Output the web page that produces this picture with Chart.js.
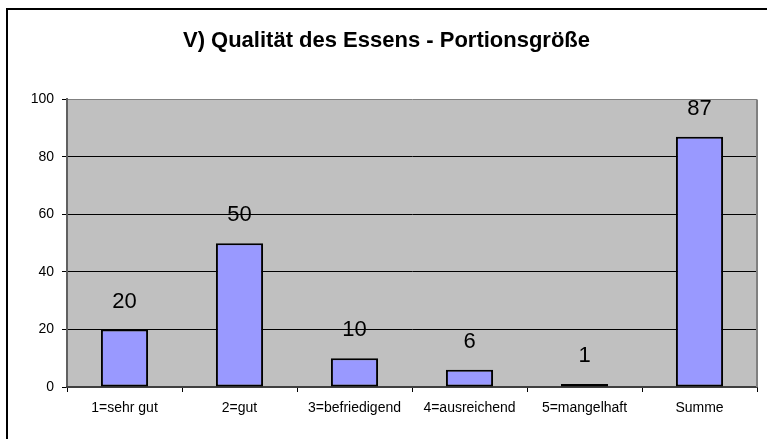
<!DOCTYPE html>
<html>
<head>
<meta charset="utf-8">
<script src="https://cdn.jsdelivr.net/npm/chart.js@4/dist/chart.umd.min.js"></script>
<style>
  html, body { margin: 0; padding: 0; background: #fff; }
  #wrap { position: relative; width: 767px; height: 439px; }
</style>
</head>
<body>
<div id="wrap"><canvas id="chart"></canvas></div>
<script>
const CATEGORIES = ['1=sehr gut', '2=gut', '3=befriedigend', '4=ausreichend', '5=mangelhaft', 'Summe'];
const VALUES = [20, 50, 10, 6, 1, 87];
const Y_TICKS = [0, 20, 40, 60, 80, 100];
const TITLE = 'V) Qualität des Essens - Portionsgröße';

// Gray plot background, right border of the plot and the outer frame lines.
const framePlugin = {
  id: 'frame',
  beforeDraw(chart) {
    const { ctx, chartArea: a } = chart;
    ctx.save();
    ctx.fillStyle = '#c0c0c0';
    ctx.fillRect(a.left, a.top, a.right - a.left, a.bottom - a.top);
    ctx.restore();
  },
  afterDraw(chart) {
    const { ctx, chartArea: a } = chart;
    ctx.save();
    ctx.strokeStyle = '#808080';
    ctx.lineWidth = 2;
    ctx.beginPath();
    ctx.moveTo(a.right, a.top);
    ctx.lineTo(a.right, a.bottom);
    ctx.stroke();
    ctx.fillStyle = '#000';
    ctx.fillRect(6, 8, 2, chart.height);
    ctx.fillRect(6, 8, chart.width, 2);
    ctx.restore();
  }
};

// Value labels above each bar.
const valueLabels = {
  id: 'valueLabels',
  afterDatasetsDraw(chart) {
    const { ctx } = chart;
    const meta = chart.getDatasetMeta(0);
    ctx.save();
    ctx.font = '22px "Liberation Sans", Arial, sans-serif';
    ctx.fillStyle = '#000';
    ctx.textAlign = 'center';
    ctx.textBaseline = 'middle';
    meta.data.forEach((bar, i) => {
      ctx.fillText(String(VALUES[i]), bar.x, bar.y - 28);
    });
    ctx.restore();
  }
};

new Chart(document.getElementById('chart'), {
  type: 'bar',
  data: {
    labels: CATEGORIES,
    datasets: [{
      data: VALUES,
      backgroundColor: '#9999ff',
      borderColor: '#000',
      borderWidth: 2,
      borderSkipped: false,
      categoryPercentage: 1,
      barPercentage: 0.41,
    }]
  },
  options: {
    responsive: true,
    maintainAspectRatio: false,
    animation: false,
    layout: { padding: { left: 16, right: 10, top: 0, bottom: 0 } },
    plugins: {
      legend: { display: false },
      tooltip: { enabled: false },
      title: {
        display: true,
        text: TITLE,
        color: '#000',
        font: { family: '"Liberation Sans", Arial, sans-serif', size: 22, weight: 'bold' },
        padding: { top: 28, bottom: 45 },
      }
    },
    scales: {
      y: {
        min: 0, max: 100,
        afterFit: s => { s.width = 51; },
        afterBuildTicks: s => { s.ticks = Y_TICKS.map(v => ({ value: v })); },
        ticks: {
          color: '#000', padding: 8,
          font: { family: '"Liberation Sans", Arial, sans-serif', size: 14 },
        },
        grid: {
          color: ctx => (ctx.tick && ctx.tick.value === 100) ? '#808080' : '#000',
          tickColor: '#000', tickLength: 5, lineWidth: 1,
        },
        border: { display: true, color: '#606060', width: 2 },
      },
      x: {
        afterFit: s => { s.height = 52; },
        ticks: {
          color: '#000', padding: 8, maxRotation: 0, autoSkip: false,
          font: { family: '"Liberation Sans", Arial, sans-serif', size: 14 },
        },
        grid: {
          offset: true, drawOnChartArea: false, drawTicks: true,
          tickLength: 5, tickColor: '#000',
        },
        border: { display: true, color: '#404040', width: 2 },
      }
    }
  },
  plugins: [framePlugin, valueLabels]
});
</script>
</body>
</html>
